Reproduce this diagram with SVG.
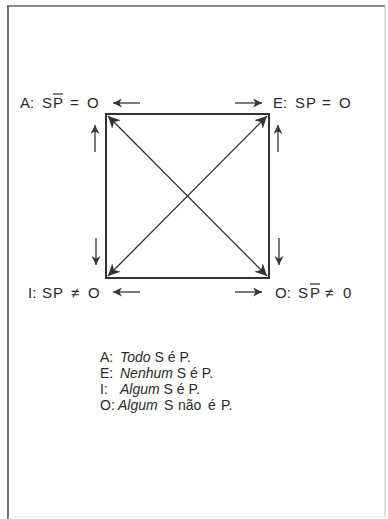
<svg xmlns="http://www.w3.org/2000/svg" width="388" height="519" viewBox="0 0 388 519">
<style>
.lbl{font-family:"Liberation Sans",Arial,sans-serif;font-size:15px;fill:#2a2a2a}
.leg{font-family:"Liberation Sans",Arial,sans-serif;font-size:14px;fill:#2a2a2a}
.it{font-style:italic}
.ar{stroke:#333;stroke-width:1.3;fill:none}
.sq{stroke:#333;stroke-width:2;fill:none}
.ov{stroke:#2a2a2a;stroke-width:1.2}
</style>
<defs>
<marker id="ah" viewBox="0 0 10 10" refX="10" refY="5" markerWidth="9" markerHeight="9" markerUnits="userSpaceOnUse" orient="auto">
<path d="M0,0 L10,5 L0,10 L3,5 Z" fill="#333"/>
</marker>
<marker id="dh" viewBox="0 0 10 10" refX="10" refY="5" markerWidth="12" markerHeight="12" markerUnits="userSpaceOnUse" orient="auto-start-reverse">
<path d="M0,0 L10,5 L0,10 L3,5 Z" fill="#333"/>
</marker>
</defs>
<rect width="388" height="519" fill="#fff"/>
<g id="frame">
<line x1="7" y1="6" x2="385" y2="6" stroke="#666" stroke-width="1.5"/>
<line x1="8" y1="6" x2="8" y2="519" stroke="#444" stroke-width="1.5"/>
<line x1="385" y1="6" x2="385" y2="517" stroke="#c4c4c4" stroke-width="1"/>
<line x1="8" y1="517" x2="385" y2="517" stroke="#e8e8e8" stroke-width="1"/>
</g>
<g id="square">
<rect class="sq" x="106" y="114" width="163" height="164"/>
</g>
<g id="connectors">
<line class="ar" x1="108" y1="116" x2="267" y2="276" marker-start="url(#dh)" marker-end="url(#dh)"/>
<line class="ar" x1="267" y1="116" x2="108" y2="276" marker-start="url(#dh)" marker-end="url(#dh)"/>
<line class="ar" x1="140" y1="103" x2="113" y2="103" marker-end="url(#ah)"/>
<line class="ar" x1="235" y1="103" x2="262" y2="103" marker-end="url(#ah)"/>
<line class="ar" x1="95" y1="152" x2="95" y2="125" marker-end="url(#ah)"/>
<line class="ar" x1="278" y1="152" x2="278" y2="125" marker-end="url(#ah)"/>
<line class="ar" x1="96" y1="238" x2="96" y2="265" marker-end="url(#ah)"/>
<line class="ar" x1="279" y1="238" x2="279" y2="265" marker-end="url(#ah)"/>
<line class="ar" x1="140" y1="292" x2="113" y2="292" marker-end="url(#ah)"/>
<line class="ar" x1="235" y1="292" x2="262" y2="292" marker-end="url(#ah)"/>
</g>
<g id="nodeA">
<text class="lbl" y="108"><tspan x="20">A:</tspan><tspan x="42">S</tspan><tspan x="53">P</tspan><tspan x="70">=</tspan><tspan x="87">O</tspan></text>
<line class="ov" x1="53" y1="94" x2="63" y2="94"/>
</g>
<g id="nodeE">
<text class="lbl" y="108"><tspan x="273">E:</tspan><tspan x="295">S</tspan><tspan x="306">P</tspan><tspan x="322">=</tspan><tspan x="339">O</tspan></text>
</g>
<g id="nodeI">
<text class="lbl" y="298"><tspan x="28">I:</tspan><tspan x="42">S</tspan><tspan x="53">P</tspan><tspan x="71">≠</tspan><tspan x="88">O</tspan></text>
</g>
<g id="nodeO">
<text class="lbl" y="298"><tspan x="275">O:</tspan><tspan x="298">S</tspan><tspan x="310">P</tspan><tspan x="325">≠</tspan><tspan x="343">0</tspan></text>
<line class="ov" x1="310" y1="284" x2="320" y2="284"/>
</g>
<g id="legend">
<text class="leg" y="362"><tspan x="100">A:</tspan><tspan x="120" class="it">Todo</tspan><tspan> S é P.</tspan></text>
<text class="leg" y="378"><tspan x="100">E:</tspan><tspan x="120" class="it">Nenhum</tspan><tspan> S é P.</tspan></text>
<text class="leg" y="394"><tspan x="100">I:</tspan><tspan x="120" class="it">Algum</tspan><tspan> S é P.</tspan></text>
<text class="leg" y="410"><tspan x="100">O:</tspan><tspan x="118" class="it">Algum</tspan><tspan x="164">S</tspan><tspan x="178">não</tspan><tspan x="208">é</tspan><tspan x="221">P.</tspan></text>
</g>
</svg>
